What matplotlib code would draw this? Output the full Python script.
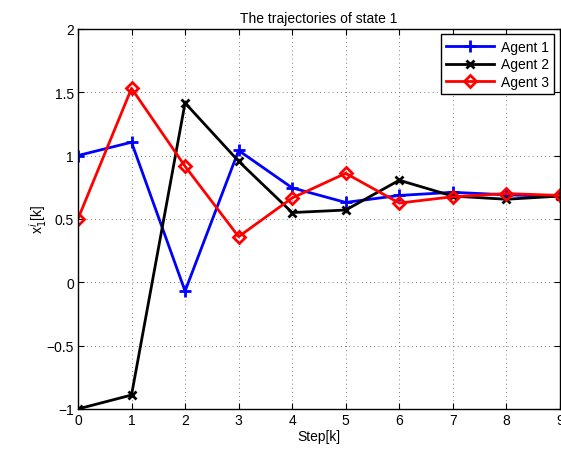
import matplotlib
matplotlib.use("Agg")
import matplotlib.pyplot as plt

steps = [0, 1, 2, 3, 4, 5, 6, 7, 8, 9]
agent1 = [1.0, 1.105, -0.07, 1.04, 0.745, 0.63, 0.685, 0.71, 0.69, 0.677]
agent2 = [-1.0, -0.89, 1.415, 0.955, 0.55, 0.57, 0.805, 0.68, 0.655, 0.68]
agent3 = [0.5, 1.53, 0.915, 0.36, 0.665, 0.86, 0.625, 0.675, 0.70, 0.685]
xticks = [0, 1, 2, 3, 4, 5, 6, 7, 8, 9]
yticks = [-1, -0.5, 0, 0.5, 1, 1.5, 2]
ytick_labels = ["\u22121", "\u22120.5", "0", "0.5", "1", "1.5", "2"]

plt.rcParams['font.family'] = ['Liberation Sans', 'DejaVu Sans']
fig = plt.figure(figsize=(5.61, 4.52), dpi=100)
ax = fig.add_axes([0.139, 0.093, 0.859, 0.841])

ax.plot(steps, agent1, color='#0000ff', lw=2, marker='+', ms=8, mew=2, label='Agent 1')
ax.plot(steps, agent2, color='black', lw=2, marker='x', ms=6, mew=2, label='Agent 2')
ax.plot(steps, agent3, color='#ff0000', lw=2, marker='D', ms=6, mew=2, mfc='none', label='Agent 3')

ax.set_xlim(0, 9)
ax.set_ylim(-1, 2)
ax.set_xticks(xticks)
ax.set_yticks(yticks)
ax.set_yticklabels(ytick_labels)
ax.tick_params(direction='in', length=4, labelsize=10, top=True, right=True, pad=3)
ax.grid(True, linestyle=(0, (1, 4)), color='#555555', lw=0.6)
for s in ax.spines.values():
    s.set_linewidth(1)

ax.set_title('The trajectories of state 1', fontsize=10, pad=5)
ax.set_xlabel('Step[k]', fontsize=10, labelpad=1)
ax.set_ylabel('x$_1^i$[k]', fontsize=10, labelpad=-2)

leg = ax.legend(loc='upper right', fontsize=10, fancybox=False, framealpha=1,
                edgecolor='black', borderaxespad=0.4, handlelength=3.4, numpoints=1,
                borderpad=0.4, labelspacing=0.25, handletextpad=0.5)
leg.get_frame().set_linewidth(1)

fig.savefig('out.png', dpi=100)
